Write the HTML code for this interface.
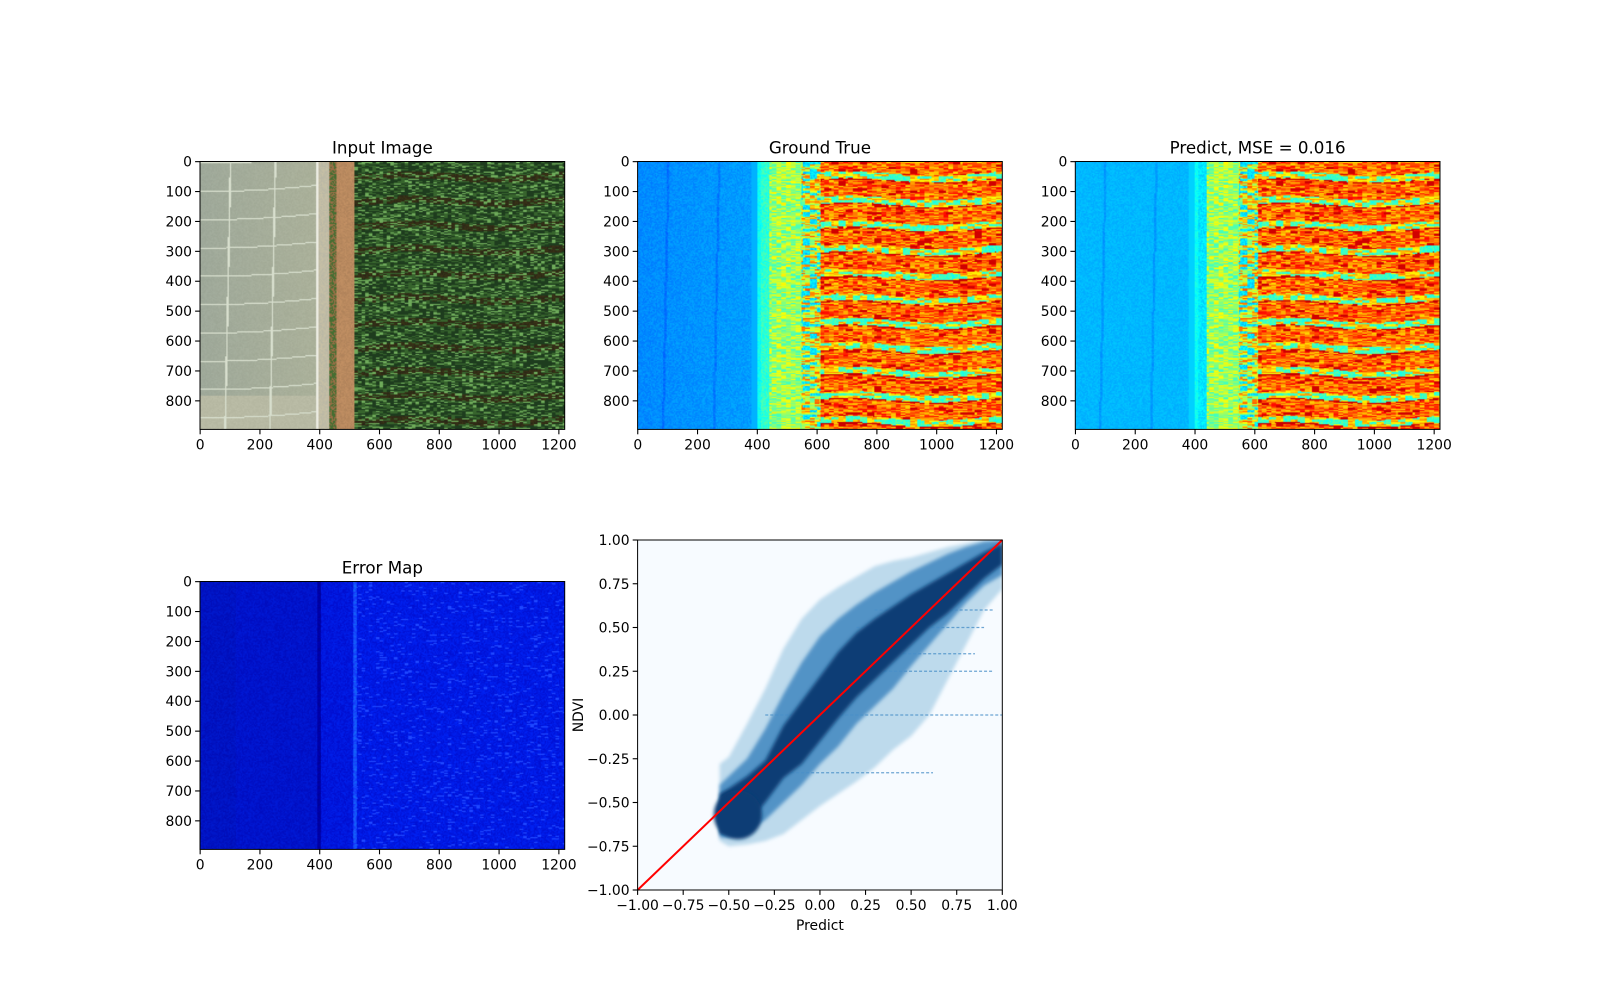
<!DOCTYPE html>
<html><head><meta charset="utf-8">
<style>
html,body{margin:0;padding:0;background:#fff;}
#wrap{position:relative;width:1600px;height:1000px;overflow:hidden;font-family:"Liberation Sans","DejaVu Sans",sans-serif;}
canvas{position:absolute;}
svg{position:absolute;left:0;top:0;}
text{font-family:"DejaVu Sans","Liberation Sans",sans-serif;}
</style></head>
<body>
<div id="wrap">
<canvas id="c1" width="305" height="224" style="left:200px;top:161.5px;width:364.7px;height:267.9px"></canvas>
<canvas id="c2" width="305" height="224" style="left:637.6px;top:161.5px;width:364.7px;height:267.9px"></canvas>
<canvas id="c3" width="305" height="224" style="left:1075.3px;top:161.5px;width:364.7px;height:267.9px"></canvas>
<canvas id="c4" width="305" height="224" style="left:200px;top:581.5px;width:364.7px;height:267.9px"></canvas>
<svg id="svg" width="1600" height="1000"></svg>
</div>
<script>
// ---- scatter data (density envelopes) ----
const predX   = [-0.55,-0.5,-0.4,-0.3,-0.2,-0.1,0,0.1,0.2,0.3,0.4,0.5,0.6,0.7,0.8,0.9,1.0];
const outerHi = [-0.28,-0.24,-0.05,0.15,0.38,0.55,0.66,0.73,0.79,0.85,0.88,0.9,0.93,0.96,0.98,1.0,1.0];
const outerLo = [-0.72,-0.75,-0.74,-0.72,-0.68,-0.6,-0.52,-0.45,-0.38,-0.3,-0.2,-0.12,0.0,0.2,0.4,0.6,0.72];
const midHi   = [-0.4,-0.35,-0.25,-0.08,0.12,0.3,0.45,0.55,0.63,0.7,0.76,0.82,0.87,0.92,0.96,0.99,1.0];
const midLo   = [-0.7,-0.7,-0.66,-0.6,-0.5,-0.4,-0.28,-0.18,-0.05,0.05,0.15,0.28,0.4,0.52,0.64,0.74,0.8];
const coreHi  = [-0.45,-0.42,-0.35,-0.26,-0.06,0.08,0.22,0.36,0.47,0.55,0.62,0.69,0.75,0.81,0.87,0.93,0.98];
const coreLo  = [-0.68,-0.68,-0.62,-0.5,-0.36,-0.28,-0.15,-0.02,0.1,0.2,0.3,0.4,0.5,0.58,0.68,0.78,0.86];
const streakY   = [0.0,-0.33,0.35,0.5,0.6,0.25];
const streakX0  = [-0.3,-0.35,0.1,0.2,0.3,0.05];
const streakX1  = [1.0,0.62,0.85,0.9,0.95,0.95];
const scatterTicks = [-1.0,-0.75,-0.5,-0.25,0,0.25,0.5,0.75,1.0];
const imgXTicks = [0,200,400,600,800,1000,1200];
const imgYTicks = [0,100,200,300,400,500,600,700,800];
const imgW = 1220, imgH = 896;

const NS='http://www.w3.org/2000/svg';
const svg=document.getElementById('svg');
function el(tag,attrs,parent){const e=document.createElementNS(NS,tag);for(const k in attrs)e.setAttribute(k,attrs[k]);(parent||svg).appendChild(e);return e;}

function hash(x,y,s){let h=(x*374761393+y*668265263+s*982451653)|0;h=(h^(h>>>13))*1274126177|0;h^=h>>>16;return ((h>>>0)%10000)/10000;}
function clip(v){return Math.max(0,Math.min(1,v));}
function jet(t){return [clip(1.5-Math.abs(4*t-3))*255,clip(1.5-Math.abs(4*t-2))*255,clip(1.5-Math.abs(4*t-1))*255];}
function rowPhase(y){return ((y+45)%82)/82;}
function isGap(y,x){const p=rowPhase(y+8*Math.sin(x/90));return p<0.28;}
function paint(id,fn){
  const c=document.getElementById(id),ctx=c.getContext('2d');const W=c.width,H=c.height;
  const im=ctx.createImageData(W,H);
  for(let j=0;j<H;j++)for(let i=0;i<W;i++){
    const x=i*imgW/W,y=j*imgH/H;const col=fn(x,y,i,j);const k=(j*W+i)*4;
    im.data[k]=col[0];im.data[k+1]=col[1];im.data[k+2]=col[2];im.data[k+3]=255;}
  ctx.putImageData(im,0,0);
}
paint('c1',(x,y,i,j)=>{
  const n=hash(i,j,1),n2=hash(Math.floor(i/3),j,2);
  if(x<385){
    const wl=(Math.abs(((y+20*(x/380)**2)%95))<4)||Math.abs(x-100+y*0.02)<3||Math.abs(x-250+y*0.02)<3;
    let b=[155+x*0.03,165+x*0.02,150];
    if(y>780)b=[180,182,160];
    if(wl)return [215,222,205];
    return [b[0]+n*8,b[1]+n*8,b[2]+n*8];
  }
  if(x<395)return [235,235,225];
  if(x<430)return [185+n*15,183+n*10,165];
  if(x<455)return n>0.5?[70,110,50]:[150,110,70];
  if(x<515)return [175+n*20,130+n*15,90+n*10];
  if(isGap(y,x)&&n2<0.6)return [40+n*20,38+n*15,22];
  const g=n2;
  if(g>0.82)return [110,170,90];
  if(g>0.5)return [55,100,45];
  return [30,60,30];
});
function ndvi(x,y,i,j,pred){
  const n=hash(i,j,3),n2=hash(Math.floor(i/4),j,4),n3=hash(Math.floor(i/6),Math.floor(j/2),5);
  if(x<380){
    let t=pred?0.29+n*0.03:0.24+n*0.04+x*0.00005;
    if(Math.abs(x-100+y*0.02)<4||Math.abs(x-270+y*0.02)<4)t-=0.03;
    return jet(t);
  }
  if(x<400)return jet(pred?0.33:0.3);
  if(x<412)return jet(0.36+n*0.05);
  if(x<440)return jet(pred?0.32+n*0.06:0.38+n*0.08);
  if(x<545)return jet(0.42+n2*0.22);
  if(x<610){const t=n3<0.3?0.3+n*0.1:0.45+n2*0.35;return jet(t);}
  let t;
  if(isGap(y,x)){t=n3<0.55?0.38+n*0.1:0.6+n2*0.15;}
  else{t=0.66+n2*0.22; if(n3>0.9)t=0.92;}
  if(Math.abs(rowPhase(y+8*Math.sin(x/90))-0.3)<0.03&&n2>0.3)t=0.93;
  return jet(t);
}
paint('c2',(x,y,i,j)=>ndvi(x,y,i,j,false));
paint('c3',(x,y,i,j)=>ndvi(x,y,i,j,true));
paint('c4',(x,y,i,j)=>{
  const n=hash(i,j,7),n2=hash(Math.floor(i/3),j,8);
  if(x<390)return [0,12+n*14,190+n*25+(x<120?-8:0)];
  if(x<402)return [0,0,150+n*30];
  if(x<510)return [0,12+n*20,205+n*30];
  if(x<522)return [20,50+n*60,250];
  let b=[0,15+n*20,210+n*35];
  if(n2>0.92)b=[30,70,255];
  return b;
});

function imgAxes(L,T,title,name){
  const W=364.7,H=267.9;
  el('rect',{x:L,y:T,width:W,height:H,fill:'none',stroke:'#000','stroke-width':1,});
  const t=el('text',{x:L+W/2,y:T-8,'text-anchor':'middle','font-size':16.7,});t.textContent=title;
  imgXTicks.forEach(v=>{const x=L+(v+0.5)/imgW*W;
    el('line',{x1:x,x2:x,y1:T+H,y2:T+H+4.9,stroke:'#000','stroke-width':1.1});
    const tt=el('text',{x:x,y:T+H+20,'text-anchor':'middle','font-size':13.9,});tt.textContent=v;});
  imgYTicks.forEach(v=>{const y=T+(v+0.5)/imgH*H;
    el('line',{x1:L,x2:L-4.9,y1:y,y2:y,stroke:'#000','stroke-width':1.1});
    const tt=el('text',{x:L-8,y:y+5,'text-anchor':'end','font-size':13.9,});tt.textContent=v;});
}
imgAxes(200,161.5,'Input Image','input-image');
imgAxes(637.6,161.5,'Ground True','ground-true');
imgAxes(1075.3,161.5,'Predict, MSE = 0.016','predict');
imgAxes(200,581.5,'Error Map','error-map');

const SL=637.6,SR=1002.3,ST=540,SB=890;
const sx=v=>SL+(v+1)/2*(SR-SL);
const sy=v=>SB-(v+1)/2*(SB-ST);
el('rect',{x:SL,y:ST,width:SR-SL,height:SB-ST,fill:'#f7fbff',});
const defs=el('defs',{});
const cp=el('clipPath',{id:'sc'},defs);el('rect',{x:SL,y:ST,width:SR-SL,height:SB-ST},cp);
const flt=el('filter',{id:'bl',x:'-10%',y:'-10%',width:'120%',height:'120%'},defs);el('feGaussianBlur',{stdDeviation:1.8},flt);
const g=el('g',{'clip-path':'url(#sc)',});
function band(hi,lo,fill,op,name,blur){
  let d='';predX.forEach((x,i)=>{d+=(i?'L':'M')+sx(x)+','+sy(hi[i]);});
  for(let i=predX.length-1;i>=0;i--)d+='L'+sx(predX[i])+','+sy(lo[i]);
  const p=el('path',{d:d+'Z',fill:fill,'fill-opacity':op,filter:blur?'url(#bl)':''},g);
  
  
}
band(outerHi,outerLo,'#a9cfe5',0.75,'scatter-sparse-band',true);
band(midHi,midLo,'#3f86c0',0.85,'scatter-mid-band',true);
streakY.forEach((y,i)=>{
  const l=el('line',{x1:sx(streakX0[i]),x2:sx(streakX1[i]),y1:sy(y),y2:sy(y),stroke:'#4a90c8','stroke-width':1.3,'stroke-opacity':0.8,'stroke-dasharray':'3 2'},g);
  
  
});
band(coreHi,coreLo,'#0b3d75',1,'scatter-dense-core',true);
const blob=el('ellipse',{cx:sx(-0.45),cy:sy(-0.57),rx:(sx(-0.3)-sx(-0.52))/2+4,ry:(sy(-0.68)-sy(-0.4))/2,fill:'#0b3d75',filter:'url(#bl)'},g);


el('line',{x1:sx(-1),y1:sy(-1),x2:sx(1),y2:sy(1),stroke:'#ff0000','stroke-width':2,});
el('rect',{x:SL,y:ST,width:SR-SL,height:SB-ST,fill:'none',stroke:'#000','stroke-width':1,});
scatterTicks.forEach(v=>{
  const x=sx(v),y=sy(v),lab=(v<0?'\u2212':'')+Math.abs(v).toFixed(2);
  el('line',{x1:x,x2:x,y1:SB,y2:SB+4.9,stroke:'#000','stroke-width':1.1});
  const a=el('text',{x:x,y:SB+20,'text-anchor':'middle','font-size':13.9,});a.textContent=lab;
  el('line',{x1:SL,x2:SL-4.9,y1:y,y2:y,stroke:'#000','stroke-width':1.1});
  const b=el('text',{x:SL-8,y:y+5,'text-anchor':'end','font-size':13.9,});b.textContent=lab;
});
const xl=el('text',{x:(SL+SR)/2,y:930,'text-anchor':'middle','font-size':13.9,});xl.textContent='Predict';
const yl=el('text',{x:0,y:0,'text-anchor':'middle','font-size':13.9,transform:'translate(583,'+((ST+SB)/2)+') rotate(-90)',});yl.textContent='NDVI';
</script>
</body></html>
